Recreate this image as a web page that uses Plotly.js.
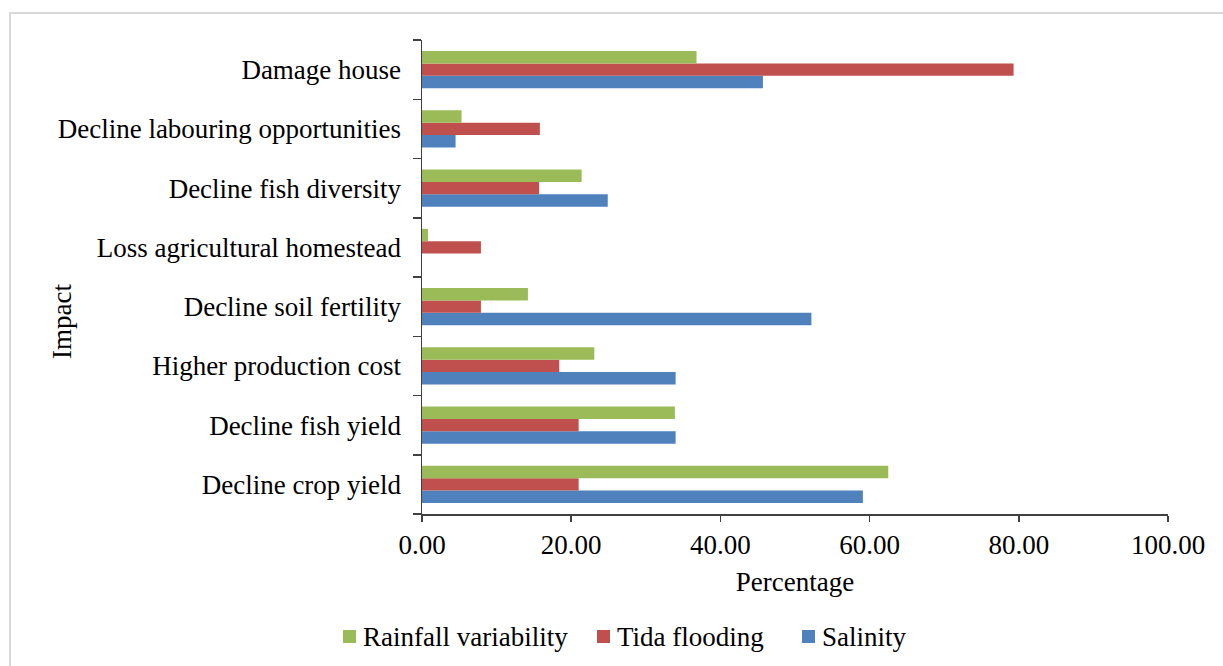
<!DOCTYPE html>
<html>
<head>
<meta charset="utf-8">
<script src="https://cdn.plot.ly/plotly-3.0.1.min.js"></script>
<style>
  html, body { margin: 0; padding: 0; background: #ffffff; }
  #wrap { position: relative; width: 1223px; height: 666px; overflow: hidden; }
  #chart { position: absolute; left: 0; top: 0; width: 1223px; height: 666px; }
  #frame { position: absolute; left: 9px; top: 12px; width: 1230px; height: 680px;
           border: 2px solid #d9d9d9; box-sizing: border-box; pointer-events: none; }
</style>
</head>
<body>
<div id="wrap">
  <div id="chart"></div>
  <div id="frame"></div>
</div>
<script>
// Impact categories, listed bottom to top
const impacts = [
  "Decline crop yield",
  "Decline fish yield",
  "Higher production cost",
  "Decline soil fertility",
  "Loss agricultural homestead",
  "Decline fish diversity",
  "Decline labouring opportunities",
  "Damage house"
];

// Share of respondents (%) reporting each impact, by hazard
const salinity = [59.1, 34.0, 34.0, 52.2, 0, 24.9, 4.5, 45.7];
const tidaFlooding = [21.0, 21.0, 18.4, 7.9, 7.9, 15.7, 15.8, 79.3];
const rainfallVariability = [62.5, 33.9, 23.1, 14.2, 0.8, 21.4, 5.3, 36.8];

const seriesNames = ["Salinity", "Tida flooding", "Rainfall variability"];
const seriesColors = ["#4F81BD", "#C0504D", "#9BBB59"];
const seriesValues = [salinity, tidaFlooding, rainfallVariability];

const xTickValues = [0, 20, 40, 60, 80, 100];

const FONT = "'Liberation Serif', 'Times New Roman', serif";
const FS = 27;

// plot area in pixels
const PLOT = { left: 422, right: 1168, top: 40, bottom: 514 };
const px2x = px => (px - PLOT.left) / (PLOT.right - PLOT.left);
const px2y = py => (PLOT.bottom - py) / (PLOT.bottom - PLOT.top);

const traces = seriesValues.map((vals, i) => ({
  type: "bar",
  orientation: "h",
  name: seriesNames[i],
  y: impacts,
  x: vals,
  marker: { color: seriesColors[i], line: { width: 0 } },
  hoverinfo: "x+name",
  showlegend: false
}));

// Legend row under the axis title: Rainfall variability, Tida flooding, Salinity
const legendOrder = [2, 1, 0];
const legendSwatchLeft = [343, 597, 802];
const swatchSize = 13;
const legendMidY = 636.5;

const legendShapes = legendOrder.map((s, k) => ({
  type: "rect",
  xref: "paper", yref: "paper",
  x0: px2x(legendSwatchLeft[k]), x1: px2x(legendSwatchLeft[k] + swatchSize),
  y0: px2y(legendMidY + swatchSize / 2), y1: px2y(legendMidY - swatchSize / 2),
  fillcolor: seriesColors[s],
  line: { width: 0 }
}));

const legendLabels = legendOrder.map((s, k) => ({
  text: seriesNames[s],
  xref: "paper", yref: "paper",
  x: px2x(legendSwatchLeft[k] + swatchSize + 5),
  y: px2y(legendMidY),
  xanchor: "left", yanchor: "middle",
  showarrow: false,
  font: { family: FONT, size: FS, color: "#000000" }
}));

const layout = {
  width: 1223,
  height: 666,
  paper_bgcolor: "rgba(0,0,0,0)",
  plot_bgcolor: "#ffffff",
  margin: { l: PLOT.left, r: 1223 - PLOT.right, t: PLOT.top, b: 666 - PLOT.bottom, pad: 0 },
  barmode: "group",
  bargap: 0.375,
  bargroupgap: 0,
  showlegend: false,
  font: { family: FONT, size: FS, color: "#000000" },
  xaxis: {
    range: [0, 100],
    tickvals: xTickValues,
    tickformat: ".2f",
    showgrid: false,
    zeroline: false,
    showline: true,
    linecolor: "#404040",
    linewidth: 1.5,
    ticks: "outside",
    ticklen: 6,
    tickwidth: 1.5,
    tickcolor: "#404040",
    ticklabelstandoff: 0,
    tickfont: { family: FONT, size: FS, color: "#000000" },
    title: { text: "Percentage", font: { family: FONT, size: FS, color: "#000000" }, standoff: 13 },
    automargin: false,
    fixedrange: true
  },
  yaxis: {
    type: "category",
    categoryorder: "array",
    categoryarray: impacts,
    showgrid: false,
    zeroline: false,
    showline: true,
    linecolor: "#404040",
    linewidth: 1.5,
    ticks: "outside",
    tickson: "boundaries",
    ticklen: 8,
    tickwidth: 1.5,
    tickcolor: "#404040",
    ticklabelstandoff: 14,
    tickfont: { family: FONT, size: FS, color: "#000000" },
    automargin: false,
    fixedrange: true
  },
  shapes: legendShapes,
  annotations: [{
    text: "Impact",
    xref: "paper",
    yref: "paper",
    x: px2x(62),
    y: px2y(322),
    xanchor: "center",
    yanchor: "middle",
    textangle: -90,
    showarrow: false,
    font: { family: FONT, size: FS, color: "#000000" }
  }].concat(legendLabels)
};

Plotly.newPlot("chart", traces, layout, { staticPlot: true, displayModeBar: false });
</script>
</body>
</html>
